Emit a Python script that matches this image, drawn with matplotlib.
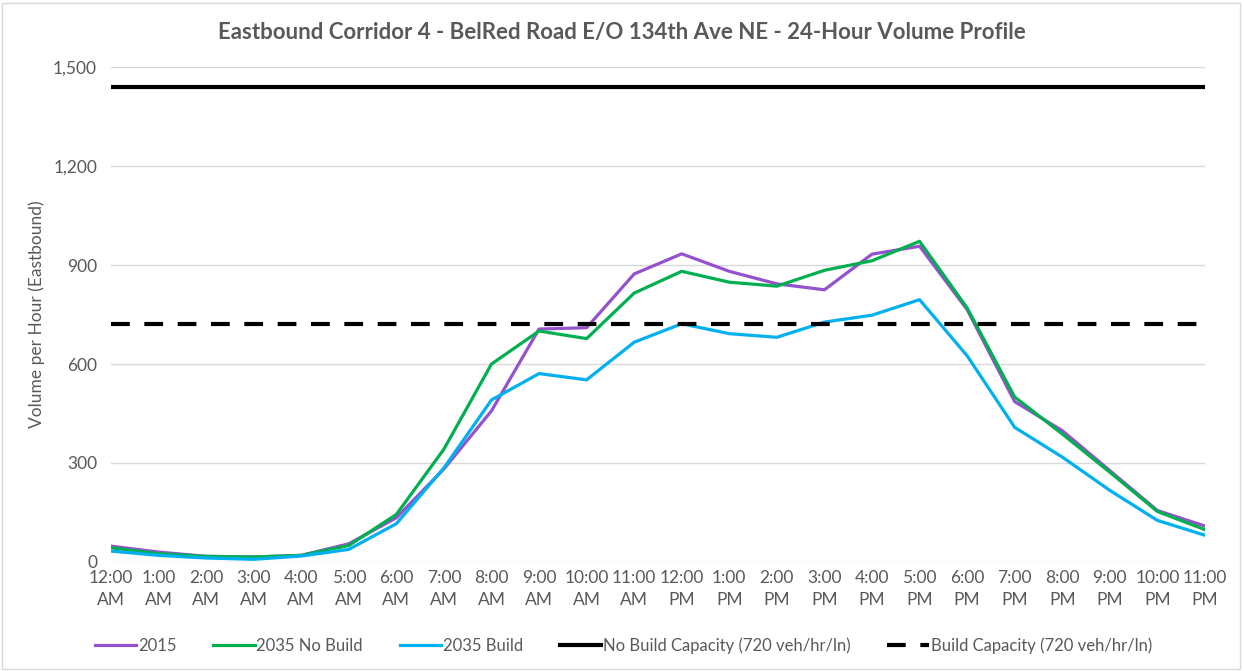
import matplotlib
matplotlib.use("Agg")
import matplotlib.pyplot as plt
from matplotlib.patches import Rectangle

# hourly volumes, eastbound
hours = ["12:00\nAM", "1:00\nAM", "2:00\nAM", "3:00\nAM", "4:00\nAM", "5:00\nAM",
         "6:00\nAM", "7:00\nAM", "8:00\nAM", "9:00\nAM", "10:00\nAM", "11:00\nAM",
         "12:00\nPM", "1:00\nPM", "2:00\nPM", "3:00\nPM", "4:00\nPM", "5:00\nPM",
         "6:00\nPM", "7:00\nPM", "8:00\nPM", "9:00\nPM", "10:00\nPM", "11:00\nPM"]
vol_2015 = [48, 30, 17, 15, 20, 55, 134, 282, 458, 706, 710, 873,
            934, 881, 843, 825, 933, 957, 765, 486, 398, 277, 156, 109]
vol_2035_nobuild = [43, 25, 17, 15, 20, 50, 144, 342, 600, 700, 677, 815,
                    881, 848, 836, 884, 913, 972, 770, 500, 388, 272, 153, 98]
vol_2035_build = [33, 20, 12, 8, 18, 38, 116, 285, 491, 571, 552, 666,
                  722, 692, 681, 727, 748, 795, 625, 408, 318, 217, 126, 81]
nobuild_capacity = 1440
build_capacity = 720

grey = "#595959"
plt.rcParams["font.family"] = ["Lato", "DejaVu Sans"]

fig = plt.figure(figsize=(12.44, 6.71), dpi=100)
ax = fig.add_axes([0.0892, 0.1625, 0.8794, 0.7375])

x = list(range(len(hours)))
ax.plot(x, vol_2015, color="#9452CC", lw=2.3, label="2015", zorder=3)
ax.plot(x, vol_2035_nobuild, color="#00B050", lw=2.3, label="2035 No Build", zorder=3)
ax.plot(x, vol_2035_build, color="#00B0F0", lw=2.3, label="2035 Build", zorder=3)
ax.plot(x, [nobuild_capacity] * len(x), color="black", lw=3,
        label="No Build Capacity (720 veh/hr/ln)", zorder=4)
ax.plot(x, [build_capacity] * len(x), color="black", lw=3, ls=(0, (4.5, 3.5)),
        label="Build Capacity (720 veh/hr/ln)", zorder=4)

ax.set_xlim(0, 23)
ax.set_ylim(0, 1500)
ax.set_yticks(range(0, 1501, 300))
ax.set_yticklabels([f"{v:,}" for v in range(0, 1501, 300)])
ax.set_xticks(x)
ax.set_xticklabels(hours, linespacing=1.45)
ax.tick_params(axis="both", length=0, colors=grey, labelsize=12.5)
ax.tick_params(axis="x", pad=6)
ax.tick_params(axis="y", pad=10)
ax.grid(axis="y", color="#d9d9d9", lw=1)
ax.set_axisbelow(True)
for s in ax.spines.values():
    s.set_visible(False)

ax.set_ylabel("Volume per Hour (Eastbound)", color=grey, fontsize=12.5, labelpad=6)
fig.text(0.5, 0.952, "Eastbound Corridor 4 - BelRed Road E/O 134th Ave NE - 24-Hour Volume Profile",
         ha="center", va="center", fontsize=16, fontweight="bold", color=grey)

leg = fig.legend(loc="center", bbox_to_anchor=(0.501, 0.038), ncol=5, frameon=False,
                 fontsize=12, handlelength=2.5, handletextpad=0.1, columnspacing=2.2)
for t in leg.get_texts():
    t.set_color(grey)

fig.add_artist(Rectangle((0.002, 0.003), 0.995, 0.993, transform=fig.transFigure,
                         fill=False, edgecolor="#d9d9d9", lw=1))

fig.savefig("out.png", dpi=100)
